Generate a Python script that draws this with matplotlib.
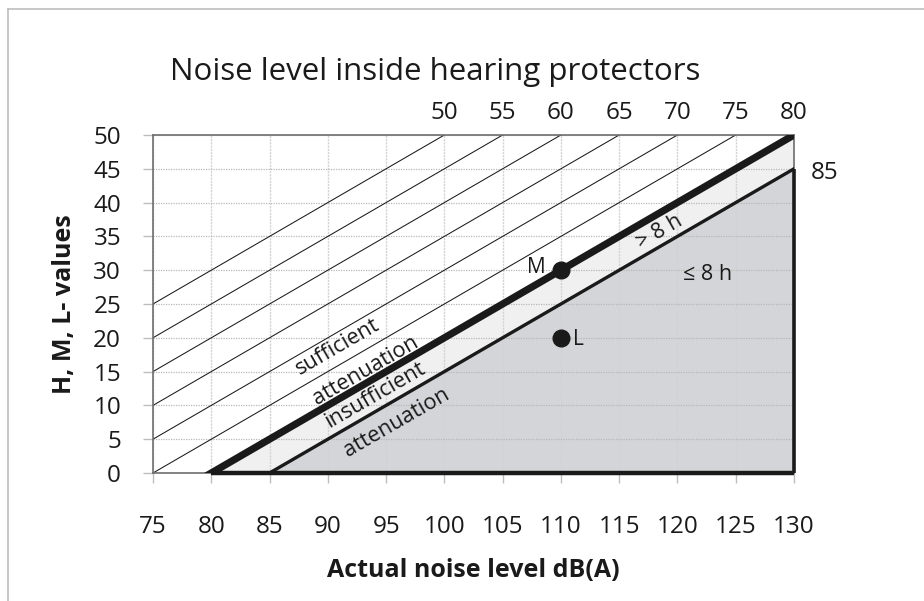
import numpy as np
import matplotlib
matplotlib.use("Agg")
import matplotlib.pyplot as plt
from matplotlib.lines import Line2D

# ---- data ----
x_ticks = [75, 80, 85, 90, 95, 100, 105, 110, 115, 120, 125, 130]
y_ticks = [0, 5, 10, 15, 20, 25, 30, 35, 40, 45, 50]
thin_levels = [50, 55, 60, 65, 70, 75]      # noise level inside protector, dB(A)
limit_level = 80                            # sufficient / insufficient boundary
upper_level = 85                            # > 8 h / <= 8 h boundary
point_names = ["M", "L"]
point_x = [110, 110]
point_y = [30, 20]

plt.rcParams['font.family'] = ['Open Sans', 'DejaVu Sans']

fig = plt.figure(figsize=(9.24, 6.01), dpi=100)
ax = fig.add_axes([0.1656, 0.2130, 0.6937, 0.5624])
ax.set_xlim(75, 130)
ax.set_ylim(0, 50)

xs = np.linspace(75, 130, 1101)

# fills
ax.fill_between(xs, np.clip(xs - limit_level, 0, 50), np.clip(xs - upper_level, 0, 50),
                color='#f0f0f0', zorder=0.2, lw=0)
ax.fill_between(xs, 0, np.clip(xs - upper_level, 0, 50), color='#d4d5d8', zorder=0.2, lw=0)

# grid
ax.set_axisbelow(True)
ax.set_xticks(x_ticks)
ax.set_yticks(y_ticks)
ax.xaxis.grid(True, color='#d2d2d2', lw=1.0, ls=(0, (1.5, 0.8)))
ax.yaxis.grid(True, color='#b8b8b8', lw=0.9, ls=(0, (1, 1)))

# diagonal lines
for L in thin_levels:
    ax.plot(xs, xs - L, color='#1a1a1a', lw=0.75, zorder=2)
ax.plot(xs, xs - limit_level, color='#1a1a1a', lw=5.2, zorder=3, solid_capstyle='butt')
ax.plot(xs, xs - upper_level, color='#1a1a1a', lw=2.4, zorder=3)
# border of the shaded region (bottom and right)
ax.plot([limit_level, 130], [0, 0], color='#1a1a1a', lw=3.2, zorder=3, clip_on=False,
        solid_capstyle='butt')
ax.plot([130, 130], [0, 130 - upper_level], color='#1a1a1a', lw=2.6, zorder=3, clip_on=False,
        solid_capstyle='butt')

# spines
for s in ['left', 'top', 'right', 'bottom']:
    ax.spines[s].set_color('#6e6e6e')
    ax.spines[s].set_linewidth(1.2)
    ax.spines[s].set_zorder(2.5)

ax.tick_params(axis='both', colors='#bdbdbd', length=7, width=1.0, labelsize=17.5,
               labelcolor='#1a1a1a')
ax.tick_params(axis='x', pad=23)
ax.tick_params(axis='y', pad=16)

# level labels at top
for L in thin_levels + [limit_level]:
    ax.annotate(str(L), xy=(L + 50, 50), xytext=(0, 7), textcoords='offset points',
                ha='center', va='bottom', fontsize=17.5, color='#1a1a1a', annotation_clip=False)
ax.annotate(str(upper_level), xy=(130, 130 - upper_level), xytext=(22, -3),
            textcoords='offset points', ha='center', va='center', fontsize=17.5,
            color='#1a1a1a', annotation_clip=False)

# points
ax.plot(point_x, point_y, 'o', color='#1a1a1a', ms=12, zorder=5)
ax.annotate(point_names[0], xy=(point_x[0], point_y[0]), xytext=(-11, 2), textcoords='offset points',
            ha='right', va='center', fontsize=15, color='#1a1a1a')
ax.annotate(point_names[1], xy=(point_x[1], point_y[1]), xytext=(9, -1), textcoords='offset points',
            ha='left', va='center', fontsize=15, color='#1a1a1a')

# region texts
rot = 30
kw = dict(rotation=rot, rotation_mode='anchor', ha='center', va='center', fontsize=15.7,
          color='#1a1a1a', zorder=6)
ax.text(90.8, 18.6, 'sufficient', **kw)
ax.text(93.2, 15.2, 'attenuation', **kw)
ax.text(94.05, 11.5, 'insufficient', **kw)
ax.text(95.9, 7.4, 'attenuation', **kw)
ax.text(118.5, 35.7, '> 8 h', **{**kw, 'fontsize': 15.5})
ax.text(122.6, 29.3, '≤ 8 h', ha='center', va='center', fontsize=15.5, color='#1a1a1a', zorder=6)

# title and axis labels
fig.text(0.471, 0.880, 'Noise level inside hearing protectors', ha='center', va='center',
         fontsize=22.5, color='#1a1a1a')
ax.set_xlabel('Actual noise level dB(A)', fontsize=18, fontweight='bold', color='#1a1a1a',
              labelpad=14)
ax.set_ylabel('H, M, L- values', fontsize=18, fontweight='bold', color='#1a1a1a', labelpad=12)

# chart frame
fig.add_artist(Line2D([8 / 924, 8 / 924], [0, 1 - 9 / 601], transform=fig.transFigure,
                      color='#bdbdbd', lw=1.2))
fig.add_artist(Line2D([8 / 924, 1], [1 - 9 / 601, 1 - 9 / 601], transform=fig.transFigure,
                      color='#bdbdbd', lw=1.2))

fig.savefig('out.png', dpi=100)
